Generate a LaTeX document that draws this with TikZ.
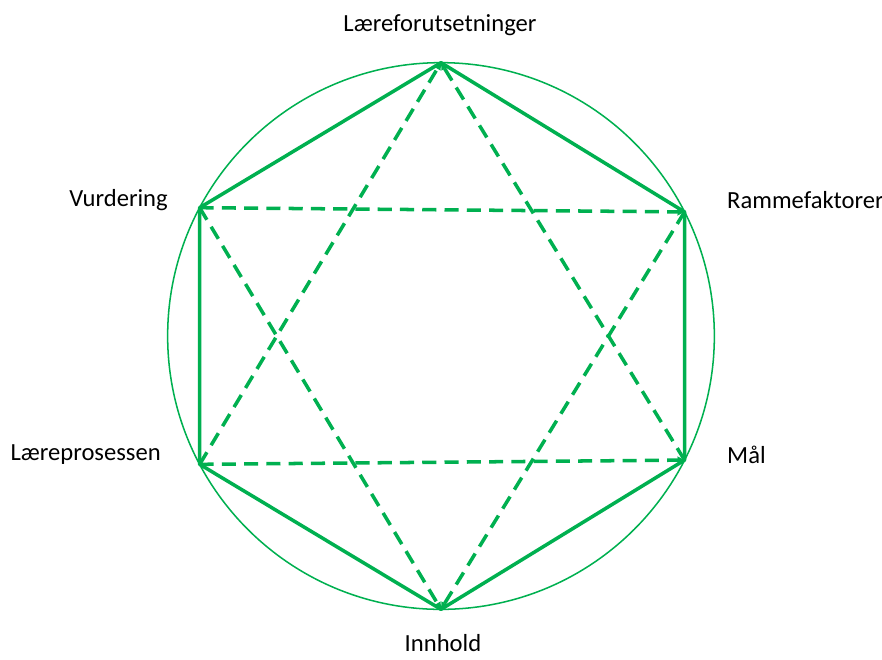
\documentclass[tikz,border=0pt]{standalone}
\usepackage{fontspec}
\setmainfont{Carlito}
\usepackage{tikz}
\usetikzlibrary{positioning, arrows.meta}
\definecolor{didgreen}{RGB}{0,176,80}
\tikzset{
  edge/.style = {didgreen, line width=3pt, line join=round},
  link/.style = {didgreen, line width=3pt, dash pattern=on 12pt off 7pt, -{Triangle[length=6pt,width=6pt]}},
  lbl/.style  = {font=\fontsize{21}{25}\selectfont, inner sep=0pt}
}

\begin{document}
\begin{tikzpicture}[x=0.03cm, y=-0.03cm]
                \useasboundingbox (0,0) rectangle (882,659);
                \node [circle, draw=didgreen, line width=1.3pt, minimum size=16.4cm, inner sep=0pt, outer sep=0pt] (c) at (441,336) {};
                % corners of the hexagon
                \coordinate (lf) at (c.90);
                \coordinate (rf) at (c.27);
                \coordinate (ml) at (c.-27);
                \coordinate (ih) at (c.-90);
                \coordinate (lp) at (c.-152);
                \coordinate (vu) at (c.152);
                % labels
                \node[lbl] (tlf) at (440,25) {Læreforutsetninger};
                \node[lbl, anchor=west] (trf) at (727,200) {Rammefaktorer};
                \node[lbl, anchor=west] (tml) at (727,455) {Mål};
                \node[lbl] (tih) at (443,643) {Innhold};
                \node[lbl, anchor=east] (tlp) at (161,455) {Læreprosessen};
                \node[lbl, anchor=east] (tvu) at (168,200) {Vurdering};
                % solid hexagon
                \draw[edge] (lf) -- (rf) -- (ml) -- (ih) -- (lp) -- (vu) -- cycle;
                % dashed triangles
                \draw[link] (lp) -- (lf);
                \draw[link] (ml) -- (lf);
                \draw[link] (lp) -- (ml);
                \draw[link] (vu) -- (rf);
                \draw[link] (vu) -- (ih);
                \draw[link] (rf) -- (ih);
\end{tikzpicture}
\end{document}
